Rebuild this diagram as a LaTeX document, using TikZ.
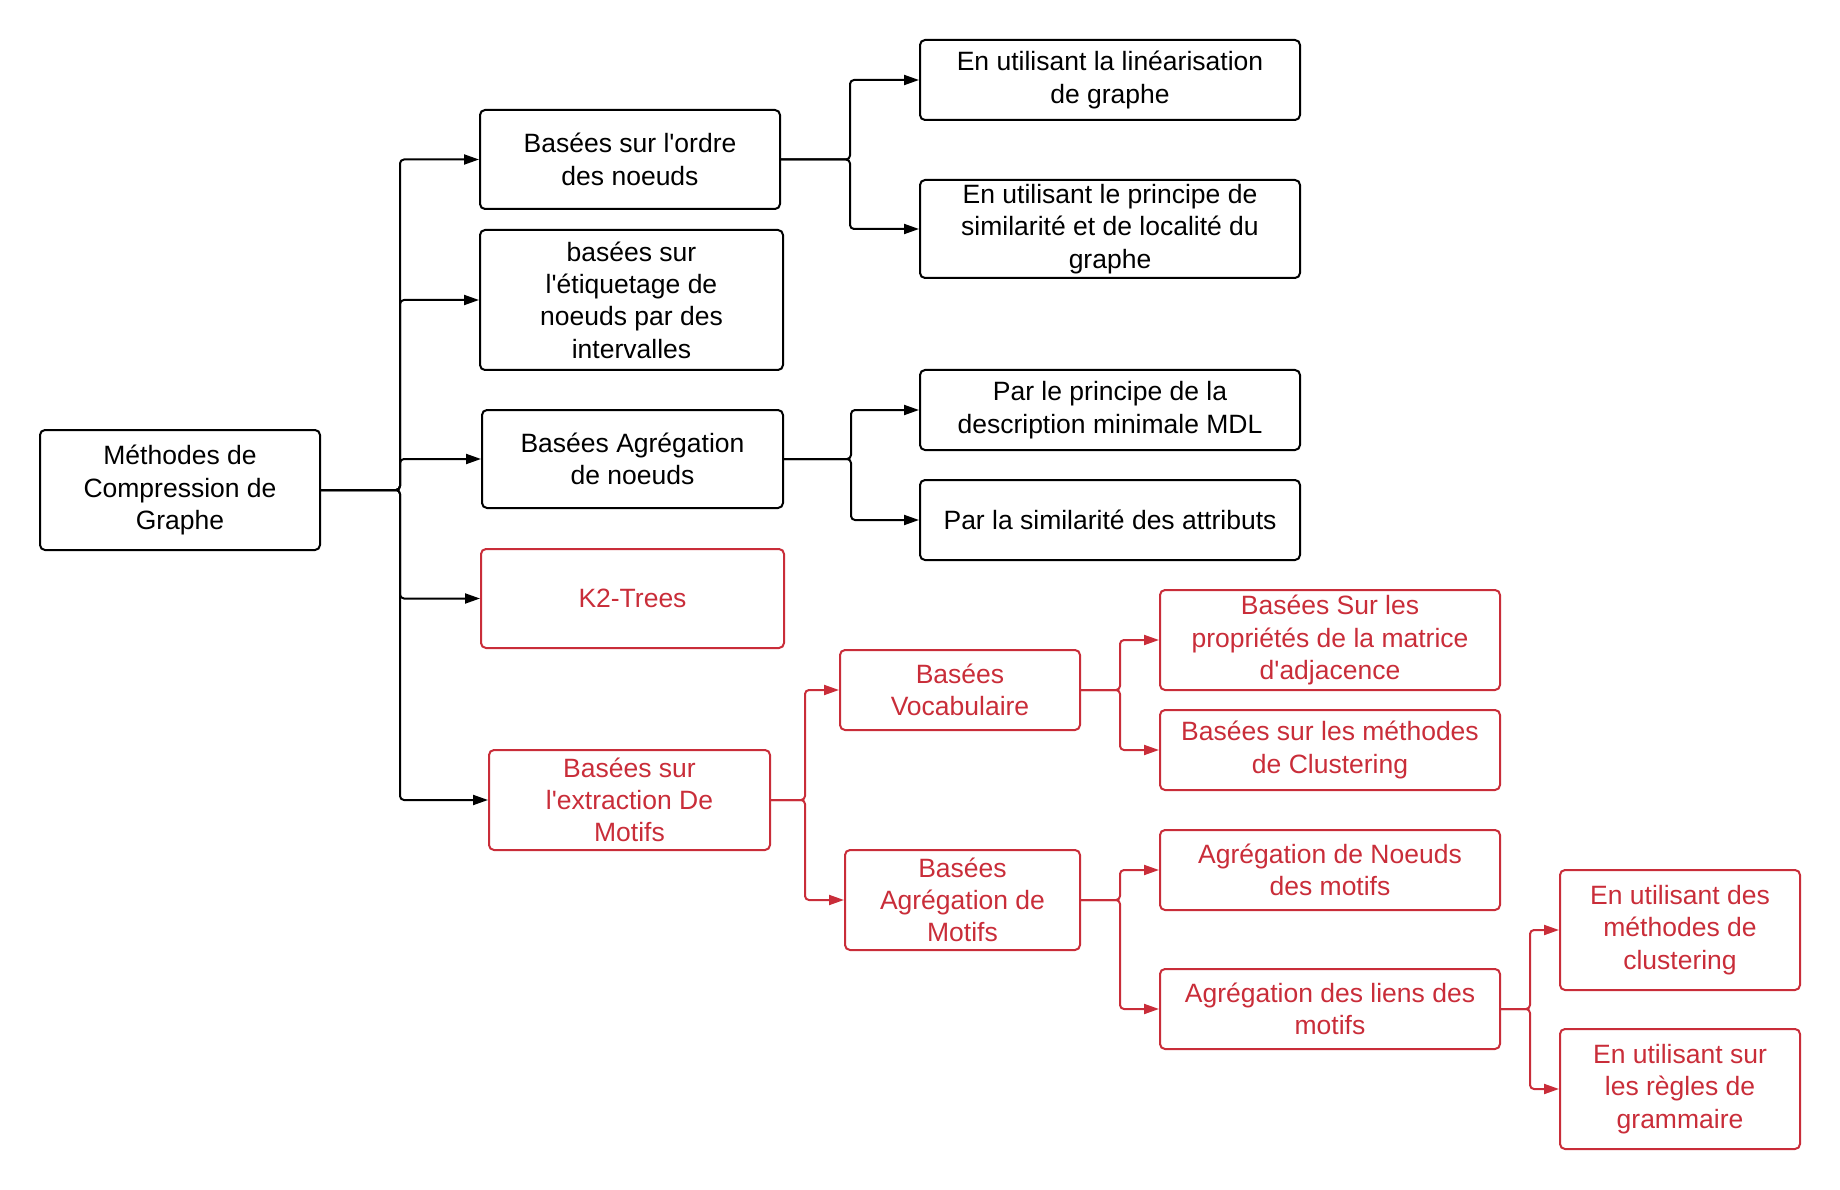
\documentclass[tikz,border=0pt]{standalone}
\usepackage{fontspec}
\setmainfont{Liberation Sans}[Ligatures=TeXOff]
\usetikzlibrary{arrows.meta}
\definecolor{lred}{RGB}{201,45,57}
\newcommand\mybox[7]{\node[#6, minimum width={(#4-#2)*1pt}, minimum height={(#5-#3)*1pt}] (#1) at ({(#2+#4)/2},{(#3+#5)/2}) {#7};}
\begin{document}
\begin{tikzpicture}[x=1pt,y=-1pt,
  box/.style={draw, line width=2pt, rounded corners=5pt, align=center, inner sep=0pt, font=\fontsize{26.5}{32.3}\selectfont},
  bbox/.style={box, draw=black, text=black},
  rbox/.style={box, draw=lred, text=lred},
  conn/.style={line width=2pt, rounded corners=4pt, -{Triangle[length=15pt,width=10pt]}},
  bconn/.style={conn, draw=black},
  rconn/.style={conn, draw=lred}]
\useasboundingbox (0,0) rectangle (1840,1190);
\mybox{root}{40}{430}{320}{550}{bbox}{Méthodes de\\Compression de\\Graphe}
\mybox{A1}{480}{110}{780}{209}{bbox}{Basées sur l'ordre\\des noeuds}
\mybox{A2}{480}{230}{783}{370}{bbox}{basées sur\\l'étiquetage de\\noeuds par des\\intervalles}
\mybox{A3}{482}{410}{783}{508}{bbox}{Basées Agrégation\\de noeuds}
\mybox{A4}{481}{549}{784}{648}{rbox}{K2-Trees}
\mybox{A5}{489}{750}{770}{850}{rbox}{Basées sur\\l'extraction De\\Motifs}
\mybox{B1}{920}{40}{1300}{120}{bbox}{En utilisant la linéarisation\\de graphe}
\mybox{B2}{920}{180}{1300}{278}{bbox}{En utilisant le principe de\\similarité et de localité du\\graphe}
\mybox{B3}{920}{370}{1300}{450}{bbox}{Par le principe de la\\description minimale MDL}
\mybox{B4}{920}{480}{1300}{560}{bbox}{Par la similarité des attributs}
\mybox{C1}{840}{650}{1080}{730}{rbox}{Basées\\Vocabulaire}
\mybox{C2}{845}{850}{1080}{950}{rbox}{Basées\\Agrégation de\\Motifs}
\mybox{D1}{1160}{590}{1500}{690}{rbox}{Basées Sur les\\propriétés de la matrice\\d'adjacence}
\mybox{D2}{1160}{710}{1500}{790}{rbox}{Basées sur les méthodes\\de Clustering}
\mybox{D3}{1160}{830}{1500}{910}{rbox}{Agrégation de Noeuds\\des motifs}
\mybox{D4}{1160}{969}{1500}{1049}{rbox}{Agrégation des liens des\\motifs}
\mybox{E1}{1560}{870}{1800}{990}{rbox}{En utilisant des\\méthodes de\\clustering}
\mybox{E2}{1560}{1029}{1800}{1149}{rbox}{En utilisant sur\\les règles de\\grammaire}
\coordinate (j0) at (400,0);
\coordinate (j1) at (850,0);
\coordinate (j3) at (851,0);
\coordinate (j5) at (805,0);
\coordinate (jc) at (1120,0);
\coordinate (jd) at (1530,0);
\foreach \t in {A1,A2,A3,A4,A5}
  \draw[bconn] (root.east) -- (root.east -| j0) |- (\t.west);
\foreach \t in {B1,B2}
  \draw[bconn] (A1.east) -- (A1.east -| j1) |- (\t.west);
\foreach \t in {B3,B4}
  \draw[bconn] (A3.east) -- (A3.east -| j3) |- (\t.west);
\foreach \t in {C1,C2}
  \draw[rconn] (A5.east) -- (A5.east -| j5) |- (\t.west);
\foreach \t in {D1,D2}
  \draw[rconn] (C1.east) -- (C1.east -| jc) |- (\t.west);
\foreach \t in {D3,D4}
  \draw[rconn] (C2.east) -- (C2.east -| jc) |- (\t.west);
\foreach \t in {E1,E2}
  \draw[rconn] (D4.east) -- (D4.east -| jd) |- (\t.west);
\end{tikzpicture}
\end{document}
